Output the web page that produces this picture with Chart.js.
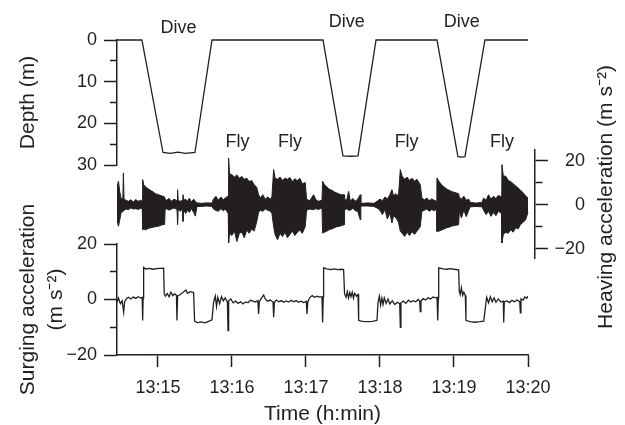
<!DOCTYPE html>
<html>
<head>
<meta charset="utf-8">
<script src="https://cdn.jsdelivr.net/npm/chart.js@4/dist/chart.umd.min.js"></script>
<style>
  html, body { margin: 0; padding: 0; background: #fff; }
  #wrap { position: relative; width: 625px; height: 425px; }
  #wrap canvas { position: absolute; left: 0; top: 0; }
</style>
</head>
<body>
<div id="wrap">
  <canvas id="depthChart" width="625" height="425"></canvas>
  <canvas id="heaveChart" width="625" height="425"></canvas>
  <canvas id="surgeChart" width="625" height="425"></canvas>
</div>
<script>
// time is in seconds after 13:14:00
const timeTicks = [60, 120, 180, 240, 300, 360];
const timeLabels = ['13:15', '13:16', '13:17', '13:18', '13:19', '13:20'];

// depth (m)
const depthTime = [26.8, 47.0, 64.1, 70, 76, 82, 90.0, 103.8, 150, 193.8, 210.0, 216, 222.2, 236.8, 260, 286.2, 303.2, 306, 308.9, 325.1, 360];
const depthValue = [0, 0, 27.0, 27.2, 26.9, 27.2, 27.0, 0, 0, 0, 27.8, 27.9, 27.8, 0, 0, 0, 28.0, 28.1, 28.0, 0, 0];
const depthTicks = [0, 5, 10, 15, 20, 25, 30];
const depthLabels = [0, 10, 20, 30];

// phase labels
const diveTimes = [76.6, 213.0, 306.2];
const diveDepths = [-2.9, -4.3, -4.3];
const flyTimes = [124.5, 167.0, 261.6, 338.9];
const flyDepths = [24.5, 24.5, 24.5, 24.5];

// heaving acceleration envelope (m s-2)
const heaveTime = [
  26.8, 27.2, 28.0, 29.0, 30.0, 31.5, 32.0, 32.5, 34, 36,
  38, 40, 42, 44, 46, 47.3, 47.6, 48.5, 50, 52,
  54, 56, 58, 60, 62, 64, 65.4, 65.8, 67, 69,
  71, 73, 75.5, 75.9, 76.4, 78, 80.0, 80.3, 80.8, 82.5,
  84, 85.5, 87, 89, 90.3, 91.6, 95, 99, 103.8, 105,
  107, 109, 111, 113, 114.6, 117.0, 117.3, 118, 120, 122,
  124, 126, 128, 130, 132, 134, 136, 138, 140, 141.6,
  143, 145, 147, 149, 151, 152.4, 153.8, 155, 157, 159,
  161, 163, 165, 167, 169, 171, 173, 175, 177, 179.4,
  180.5, 183, 186.2, 188, 190, 193.0, 193.5, 195, 197, 199,
  201, 203, 205, 207, 209, 211.0, 211.3, 213, 214.6, 216,
  218, 220, 222, 224.0, 224.5, 225.4, 230, 235, 237.6, 240,
  242, 244, 246, 248, 249.7, 251, 253, 255, 256.5, 258,
  260, 262, 264, 266, 268, 270, 272.7, 274, 276, 278,
  280, 282, 284, 286.0, 286.2, 288, 290, 292, 294, 296,
  298, 300, 302, 303.8, 304.3, 306, 308, 310, 312, 313.2,
  318, 322.7, 324, 326, 328, 330, 332, 334, 336, 338.5,
  338.9, 340, 342, 344, 346, 348, 350, 352, 354, 356, 358, 360
];
const heaveUpper = [
  0.5, 9, 10.6, 6, 3, 2.5, 14.4, 2.5, 2, 1.5,
  2.2, 1.2, 2.3, 1.5, 2, 1.5, 11.4, 9, 8, 7.2,
  6.5, 5.8, 5, 4.6, 4.2, 3.8, 3.5, 2.5, 2, 2.8,
  1.5, 2.5, 1.8, 6.8, 2, 1.5, 2, 4.5, 2.0, 2.5,
  1.5, 3.0, 1.2, 2.5, 1.5, 0.8, 0.6, 0.8, 0.7, 2.5,
  3.8, 2.0, 3.5, 2.2, 3.0, 4, 21.2, 14, 13.6, 12.5,
  13.5, 12, 12.8, 11.5, 12, 10.5, 11, 9, 8, 4.5,
  3, 4.5, 2.5, 3.5, 2.5, 3.5, 15.9, 12, 11.5, 12.5,
  11, 12, 11.5, 12.3, 10.5, 11.8, 10.8, 12, 9.5, 10,
  2.5, 1.8, 4.5, 2.3, 1.5, 2.0, 10.6, 9, 8, 7,
  6.5, 5.8, 5.3, 4.8, 4.5, 4.5, 2.5, 2, 6.0, 1.5,
  2.8, 1.6, 2.5, 4.5, 1.0, 0.6, 0.8, 0.6, 1.5, 2.5,
  1.8, 3.5, 2.6, 4.5, 6.8, 4.0, 5.0, 3.8, 15.9, 12.9,
  11.5, 12.5, 11, 12, 10.6, 11.5, 9, 3.0, 2.2, 3.0,
  1.8, 2.6, 2.0, 1.5, 12.1, 10.5, 9, 8, 7.2, 6.5,
  6.0, 5.6, 5.3, 5.0, 3.5, 2.5, 3.8, 2.0, 2.5, 1.0,
  0.7, 1.0, 3.0, 2.0, 4.5, 2.5, 3.8, 2.8, 4.2, 3.5,
  18.2, 13, 12.9, 11, 10.5, 9.5, 8.5, 7.6, 6.5, 5.5, 4.0, 3.0
];
const heaveLower = [
  -0.5, -8, -9.8, -7, -4, -3, -3, -2.5, -2, -2.3,
  -1.5, -2, -1.8, -2.2, -1.6, -2, -11.4, -11, -11.4, -10.8,
  -10.5, -10.2, -10, -9.8, -9.5, -9.0, -9.0, -2.5, -1.8, -2.5,
  -2.0, -1.5, -2.2, -9.0, -2, -3, -2, -7.6, -2.5, -4,
  -2.5, -3.5, -1.8, -3.5, -5.2, -0.8, -0.8, -0.6, -0.8, -2.0,
  -2.6, -3.0, -1.8, -2.8, -2.0, -4, -17.4, -13, -14, -12,
  -16.7, -13, -12.5, -15, -11.5, -13, -11, -12, -8, -3.5,
  -2.5, -3.0, -2.0, -2.5, -3.0, -4.0, -10, -13.6, -15.9, -13,
  -14.5, -12.5, -15, -13.5, -12, -14, -12.5, -11.5, -13, -10,
  -2.5, -2.0, -2.3, -1.8, -2.2, -1.5, -12.9, -12.5, -12, -11.3,
  -11, -10.5, -10, -9.8, -9.5, -9.1, -2.5, -1.8, -2.5, -2.5,
  -1.6, -2.8, -3, -6.8, -1.0, -0.6, -0.6, -0.8, -1.5, -2.5,
  -4.5, -2.2, -6.5, -3.8, -8.3, -5.0, -6.0, -8.0, -12.1, -13,
  -14.4, -12.5, -14, -12.2, -13.5, -12, -10, -3.0, -2.5, -2.0,
  -3.0, -2.2, -2.8, -2.0, -12.1, -12, -11.5, -11, -10.5, -10.2,
  -9.8, -9.5, -9.3, -9.1, -3.0, -6.0, -2.5, -5.5, -2.5, -1.0,
  -0.8, -1.0, -2.5, -4.5, -3.0, -5.3, -3.5, -5.0, -3.0, -4.0,
  -17.4, -13.6, -12.5, -13, -11.4, -12.5, -10.5, -11, -9, -8, -7, -3.5
];
const heaveTicks = [-20, -10, 0, 10, 20];
const heaveLabels = [-20, 0, 20];

// surging acceleration (m s-2)
const surgeTime = [
  26.8, 28, 29.5, 31, 32.2, 33, 34.5, 36, 38, 40,
  42, 44, 46, 47.2, 47.6, 48.0, 48.4, 50, 53, 56,
  59, 62, 64.6, 65.1, 66, 67.5, 69, 70.5, 72, 73.5,
  75, 75.4, 75.9, 78, 80, 82.7, 84, 86, 88.9, 89.7,
  92, 95, 98, 101, 103.8, 105.1, 106.5, 107.5, 108.5, 110,
  111.5, 113, 114.5, 116.3, 116.8, 117.3, 119, 121, 123, 125,
  127, 129, 131, 133, 135, 137, 139, 141, 141.6, 142.2,
  144, 145.7, 147, 149, 151, 153.3, 153.8, 154.4, 156, 158,
  160, 162, 164, 166, 168, 170, 172, 174, 176, 178,
  180.3, 180.8, 181.5, 183, 185, 187, 189, 191, 193, 193.5,
  194.0, 194.3, 197, 200, 203, 206, 209, 210.5, 211.3, 212.5,
  213.5, 214.5, 215.5, 216.5, 217.5, 218.5, 219.5, 221, 222.2, 222.7,
  226, 230, 234, 237.6, 238.4, 239.5, 240.5, 241.5, 242.5, 243.5,
  245, 246.5, 248, 250, 252, 254, 256, 256.5, 257, 259,
  261, 263, 265, 267, 269, 271, 272.2, 272.7, 273.2, 275,
  277, 279, 281, 283, 285, 286.3, 286.8, 287.3, 287.6, 291,
  294, 297, 300, 303.8, 304.3, 305, 306, 307, 308, 309.2,
  309.7, 313, 317, 321, 324.1, 325.4, 326.5, 328, 329.5, 331,
  332.5, 334, 336, 338, 340, 340.3, 340.8, 343, 345, 347,
  349, 351, 353.3, 353.8, 354.3, 356, 357.5, 359, 360
];
const surgeValue = [
  -1.0, 0.5, -1.5, -0.5, -4.5, -0.8, 0.3, 0.8, 0.2, 0.9,
  0.4, 1.0, 0.5, 0.8, -7.6, 0.5, 11.6, 11.0, 11.2, 10.9,
  11.1, 11.2, 11.3, 2.0, 1.2, 2.2, 1.0, 2.6, 1.4, 2.0,
  1.5, -7.6, 1.2, 1.8, 2.4, 3.4, 2.2, 2.8, 2.5, -7.8,
  -8.3, -8.1, -8.4, -7.9, -7.3, -1.0, 1.2, -2.5, 0.8, -1.5,
  1.0, -0.5, 0.6, -1.0, -11.2, -0.5, 0.2, -1.2, -0.6, -1.4,
  -0.8, -1.6, -0.9, -1.2, -0.3, -0.6, -0.9, -0.4, -5.2, -0.8,
  0.6, 1.6, 0.2, -0.6, -0.2, -0.9, -6.4, -0.9, -0.2, -0.8,
  -0.4, -1.0, -0.5, -0.9, -0.3, -0.8, -0.4, -1.0, -0.6, -1.1,
  -0.7, -5.2, -0.8, 0.6, 1.4, 0.8, 1.2, 0.9, 1.0, -8.3,
  1.0, 11.4, 11.0, 10.8, 11.0, 10.8, 10.9, 10.8, 2.0, 0.8,
  2.8, 0.6, 2.5, 1.0, 2.6, 0.5, 2.2, 1.2, 1.8, -7.6,
  -7.9, -8.0, -7.9, -7.5, -1.0, 1.2, -2.0, 0.5, -1.8, 0.6,
  -1.4, 0.2, -1.6, -0.5, -1.8, -1.0, -1.5, -10.0, -1.2, -0.6,
  -1.4, -0.2, -0.9, -0.4, -0.8, 0.0, -0.6, -4.4, -0.5, 0.3,
  -0.2, 0.6, 0.2, 0.9, 0.6, 0.8, -7.6, 0.5, 11.4, 11.0,
  10.9, 11.1, 10.9, 10.7, 3.0, 1.8, 4.2, 1.5, 2.6, 1.4,
  -7.6, -8.0, -8.2, -8.0, -7.8, -3.0, 0.8, -1.2, 1.0, -0.8,
  0.6, -1.0, 0.2, -0.9, -0.6, -8.3, -0.8, -0.5, -1.1, -0.3,
  -0.8, -0.2, -0.8, -4.8, 0.2, -0.2, 0.9, 0.4, 1.2
];
const surgeTicks = [-20, -10, 0, 10, 20];
const surgeLabels = [-20, 0, 20];

const ink = '#231f20';
const family = "'Liberation Sans', Arial, Helvetica, sans-serif";
Chart.defaults.font.family = family;
Chart.defaults.color = ink;
Chart.defaults.animation = false;
Chart.defaults.plugins.legend.display = false;
Chart.defaults.plugins.tooltip.enabled = false;
Chart.defaults.elements.point.radius = 0;

const pts = (xs, ys) => xs.map((x, i) => ({x: x, y: ys[i]}));
const fmt = v => v < 0 ? '\u2212' + Math.abs(v) : String(v);

// y axis with long labelled ticks and short unlabelled ones
function yAxis(cfg) {
  return {
    type: 'linear',
    position: cfg.position,
    min: cfg.min,
    max: cfg.max,
    reverse: !!cfg.reverse,
    afterBuildTicks: s => { s.ticks = cfg.ticks.map(v => ({value: v})); },
    afterFit: s => { s.width = cfg.width; },
    border: {display: true, color: ink, width: 1.5},
    grid: {
      drawOnChartArea: false,
      tickLength: 13,
      tickColor: ink,
      tickWidth: 1.5,
      tickBorderDash: c => (c.tick && !cfg.labels.includes(c.tick.value)) ? cfg.minorDash : []
    },
    ticks: {
      autoSkip: false,
      padding: cfg.padding,
      crossAlign: cfg.crossAlign || 'near',
      font: {size: 18},
      color: ink,
      callback: v => cfg.labels.includes(v) ? fmt(v) : ''
    },
    title: cfg.title || {display: false}
  };
}

// Dive / Fly labels placed with the chart scales
const phaseLabels = {
  id: 'phaseLabels',
  afterDatasetsDraw(chart, args, opts) {
    const {ctx, scales: {x, y}} = chart;
    ctx.save();
    ctx.font = '18px ' + family;
    ctx.fillStyle = ink;
    ctx.textAlign = 'center';
    ctx.textBaseline = 'middle';
    opts.groups.forEach(g => {
      g.times.forEach((t, i) => {
        ctx.fillText(g.text, x.getPixelForValue(t), y.getPixelForValue(g.depths[i]));
      });
    });
    ctx.restore();
  }
};

// right side title, read bottom to top
const sideTitle = {
  id: 'sideTitle',
  afterDraw(chart, args, opts) {
    const {ctx} = chart;
    ctx.save();
    ctx.translate(opts.x, opts.y);
    ctx.rotate(-Math.PI / 2);
    ctx.font = '21px ' + family;
    ctx.fillStyle = ink;
    ctx.textAlign = 'center';
    ctx.textBaseline = 'middle';
    ctx.fillText(opts.text, 0, 0);
    ctx.restore();
  }
};

const sideTitleFont = {size: 21, lineHeight: 1.333};

new Chart('depthChart', {
  type: 'line',
  data: {
    datasets: [{
      data: pts(depthTime, depthValue),
      borderColor: ink,
      borderWidth: 1.3,
      fill: false,
      clip: false
    }]
  },
  options: {
    responsive: false,
    devicePixelRatio: 1,
    layout: {padding: {top: 40, right: 97, bottom: 260, left: 0}},
    scales: {
      x: {type: 'linear', min: 26.8, max: 360, display: false},
      y: yAxis({
        position: 'left', min: 0, max: 30, reverse: true, width: 117,
        ticks: depthTicks, labels: depthLabels, minorDash: [0, 6, 7, 100], padding: 7,
        title: {display: true, text: 'Depth (m)', font: sideTitleFont, color: ink, padding: {top: 14, bottom: 0}}
      })
    },
    plugins: {
      phaseLabels: {
        groups: [
          {text: 'Dive', times: diveTimes, depths: diveDepths},
          {text: 'Fly', times: flyTimes, depths: flyDepths}
        ]
      }
    }
  },
  plugins: [phaseLabels]
});

new Chart('heaveChart', {
  type: 'line',
  data: {
    datasets: [{
      data: pts(heaveTime, heaveUpper),
      borderColor: ink,
      borderWidth: 1,
      fill: false
    }, {
      data: pts(heaveTime, heaveLower),
      borderColor: ink,
      borderWidth: 1,
      backgroundColor: ink,
      fill: '-1'
    }]
  },
  options: {
    responsive: false,
    devicePixelRatio: 1,
    layout: {padding: {top: 150, right: 40, bottom: 167, left: 117}},
    scales: {
      x: {type: 'linear', min: 26.8, max: 365.7, display: false},
      y: yAxis({
        position: 'right', min: -24.2, max: 24.8, width: 50,
        ticks: heaveTicks, labels: heaveLabels, minorDash: [7, 100], padding: 6, crossAlign: 'far'
      })
    },
    plugins: {
      sideTitle: {text: 'Heaving acceleration (m s\u207B\u00B2)', x: 606, y: 197}
    }
  },
  plugins: [sideTitle]
});

new Chart('surgeChart', {
  type: 'line',
  data: {
    datasets: [{
      data: pts(surgeTime, surgeValue),
      borderColor: ink,
      borderWidth: 1.3,
      fill: false
    }]
  },
  options: {
    responsive: false,
    devicePixelRatio: 1,
    layout: {padding: {top: 244, right: 97, bottom: 0, left: 0}},
    scales: {
      x: {
        type: 'linear', position: 'bottom', min: 26.8, max: 360,
        afterBuildTicks: s => { s.ticks = timeTicks.map(v => ({value: v})); },
        afterFit: s => { s.height = 70; },
        border: {display: true, color: ink, width: 1.5},
        grid: {drawOnChartArea: false, tickLength: 12, tickColor: ink, tickWidth: 1.5},
        ticks: {
          autoSkip: false, maxRotation: 0, padding: 10, font: {size: 18}, color: ink,
          callback: v => timeLabels[timeTicks.indexOf(v)]
        },
        title: {display: true, text: 'Time (h:min)', font: {size: 21, lineHeight: 1}, color: ink, padding: 0}
      },
      y: yAxis({
        position: 'left', min: -20, max: 20, width: 117,
        ticks: surgeTicks, labels: surgeLabels, minorDash: [0, 6, 7, 100], padding: 7,
        title: {display: true, text: ['Surging acceleration', '(m s\u207B\u00B2)'], font: sideTitleFont, color: ink, padding: {top: 14, bottom: 0}}
      })
    }
  }
});
</script>
</body>
</html>
